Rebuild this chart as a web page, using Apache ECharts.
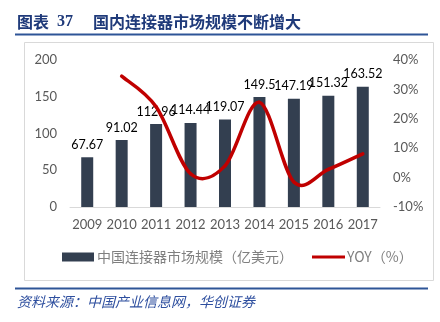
<!DOCTYPE html>
<html>
<head>
<meta charset="utf-8">
<script src="https://cdn.jsdelivr.net/npm/echarts@6/dist/echarts.min.js"></script>
<style>
  html, body { margin: 0; padding: 0; background: #ffffff; }
  #chart { width: 440px; height: 322px; }
</style>
</head>
<body>
<div id="chart"></div>
<script>
// Connector market size in China (100M USD) and year-on-year growth (%)
const years = ['2009', '2010', '2011', '2012', '2013', '2014', '2015', '2016', '2017'];
const marketSize = [67.67, 91.02, 112.96, 114.44, 119.07, 149.5, 147.19, 151.32, 163.52];
const yoy = [null, 34.5, 24.1, 1.3, 4.0, 25.6, -1.5, 2.8, 8.1];
const leftTicks = { min: 0, max: 200, interval: 50 };
const rightTicks = { min: -10, max: 40, interval: 10 };

const barName = '中国连接器市场规模（亿美元）';
const lineName = 'YOY（%）';
const numFont = 'Lato, "Liberation Sans", sans-serif';
const cjkFont = '"Noto Sans CJK SC", sans-serif';

const chart = echarts.init(document.getElementById('chart'), null, { renderer: 'canvas' });

const hasValue = (i) => i >= 0 && i < yoy.length && yoy[i] !== null;

// Smoothed growth curve: each segment is a cubic Bezier between two years,
// with Catmull-Rom style tangents taken from the neighbouring years.
function renderGrowthSegment(params, api) {
  const i = params.dataIndex;
  if (!hasValue(i) || !hasValue(i - 1)) return null;
  const pt = (k) => api.coord([k, yoy[k]]);
  const p0 = pt(i - 1);
  const p1 = pt(i);
  const prev = hasValue(i - 2) ? pt(i - 2) : p0;
  const next = hasValue(i + 1) ? pt(i + 1) : p1;
  const cp1 = [p0[0] + (p1[0] - prev[0]) / 6, p0[1] + (p1[1] - prev[1]) / 6];
  const cp2 = [p1[0] - (next[0] - p0[0]) / 6, p1[1] - (next[1] - p0[1]) / 6];
  return {
    type: 'bezierCurve',
    shape: {
      x1: p0[0], y1: p0[1],
      cpx1: cp1[0], cpy1: cp1[1],
      cpx2: cp2[0], cpy2: cp2[1],
      x2: p1[0], y2: p1[1]
    },
    style: { fill: null, stroke: '#c00000', lineWidth: 3.5, lineCap: 'round' }
  };
}

chart.setOption({
  animation: false,
  backgroundColor: '#ffffff',
  grid: { left: 70, right: 60, top: 60, bottom: 115 },
  legend: [
    {
      data: [barName],
      left: 57, top: 245,
      itemWidth: 32, itemHeight: 9,
      icon: 'rect',
      textStyle: { color: '#7f7f7f', fontSize: 14, fontFamily: cjkFont, padding: [0, 0, 0, -2] }
    },
    {
      data: [lineName],
      left: 307, top: 245,
      itemWidth: 33, itemHeight: 3,
      icon: 'rect',
      textStyle: { color: '#7f7f7f', fontSize: 14, fontFamily: cjkFont, padding: [0, 0, 0, -3] }
    }
  ],
  xAxis: {
    type: 'category',
    data: years,
    axisLine: { lineStyle: { color: '#d9d9d9', width: 1 } },
    axisTick: { show: false },
    axisLabel: { interval: 0, color: '#595959', fontSize: 13, fontFamily: numFont, margin: 11 }
  },
  yAxis: [
    {
      type: 'value',
      min: leftTicks.min, max: leftTicks.max, interval: leftTicks.interval,
      axisLine: { show: false },
      axisTick: { show: false },
      splitLine: { show: false },
      axisLabel: { color: '#595959', fontSize: 13, fontFamily: numFont, margin: 13 }
    },
    {
      type: 'value',
      min: rightTicks.min, max: rightTicks.max, interval: rightTicks.interval,
      axisLine: { show: false },
      axisTick: { show: false },
      splitLine: { show: false },
      axisLabel: { color: '#595959', fontSize: 13, fontFamily: numFont, margin: 13, formatter: '{value}%' }
    }
  ],
  series: [
    {
      name: barName,
      type: 'bar',
      data: marketSize,
      barWidth: 12,
      itemStyle: { color: '#333f50' },
      label: {
        show: true, position: 'top', distance: 6,
        color: '#000000', fontSize: 12.5, fontFamily: numFont
      }
    },
    {
      name: lineName,
      type: 'custom',
      yAxisIndex: 1,
      data: years.map((y, i) => [i, yoy[i] === null ? '-' : yoy[i]]),
      encode: { x: 0, y: 1 },
      renderItem: renderGrowthSegment,
      itemStyle: { color: '#c00000' },
      z: 3
    }
  ],
  graphic: [
    // outer chart frame
    {
      type: 'rect', silent: true, z: -1,
      shape: { x: 24.5, y: 42.5, width: 409, height: 238 },
      style: { fill: 'none', stroke: '#d9d9d9', lineWidth: 1 }
    },
    // heading
    {
      type: 'text', left: 17, top: 14,
      style: { text: '图表', fill: '#1f3a7a', font: 'bold 16px ' + cjkFont }
    },
    {
      type: 'text', left: 57, top: 14,
      style: { text: '37', fill: '#1f3a7a', font: 'bold 16px "Liberation Serif", serif' }
    },
    {
      type: 'text', left: 93, top: 14,
      style: { text: '国内连接器市场规模不断增大', fill: '#1f3a7a', font: 'bold 16px ' + cjkFont }
    },
    {
      type: 'line', silent: true,
      shape: { x1: 15, y1: 34.5, x2: 428, y2: 34.5 },
      style: { stroke: '#2e5597', lineWidth: 2 }
    },
    {
      type: 'line', silent: true,
      shape: { x1: 15, y1: 288.5, x2: 428, y2: 288.5 },
      style: { stroke: '#2e5597', lineWidth: 2 }
    },
    // source note
    {
      type: 'text', left: 17, top: 295,
      style: { text: '资料来源：中国产业信息网，华创证券', fill: '#2e4f9f', font: 'italic 14px ' + cjkFont }
    }
  ]
});
</script>
</body>
</html>
